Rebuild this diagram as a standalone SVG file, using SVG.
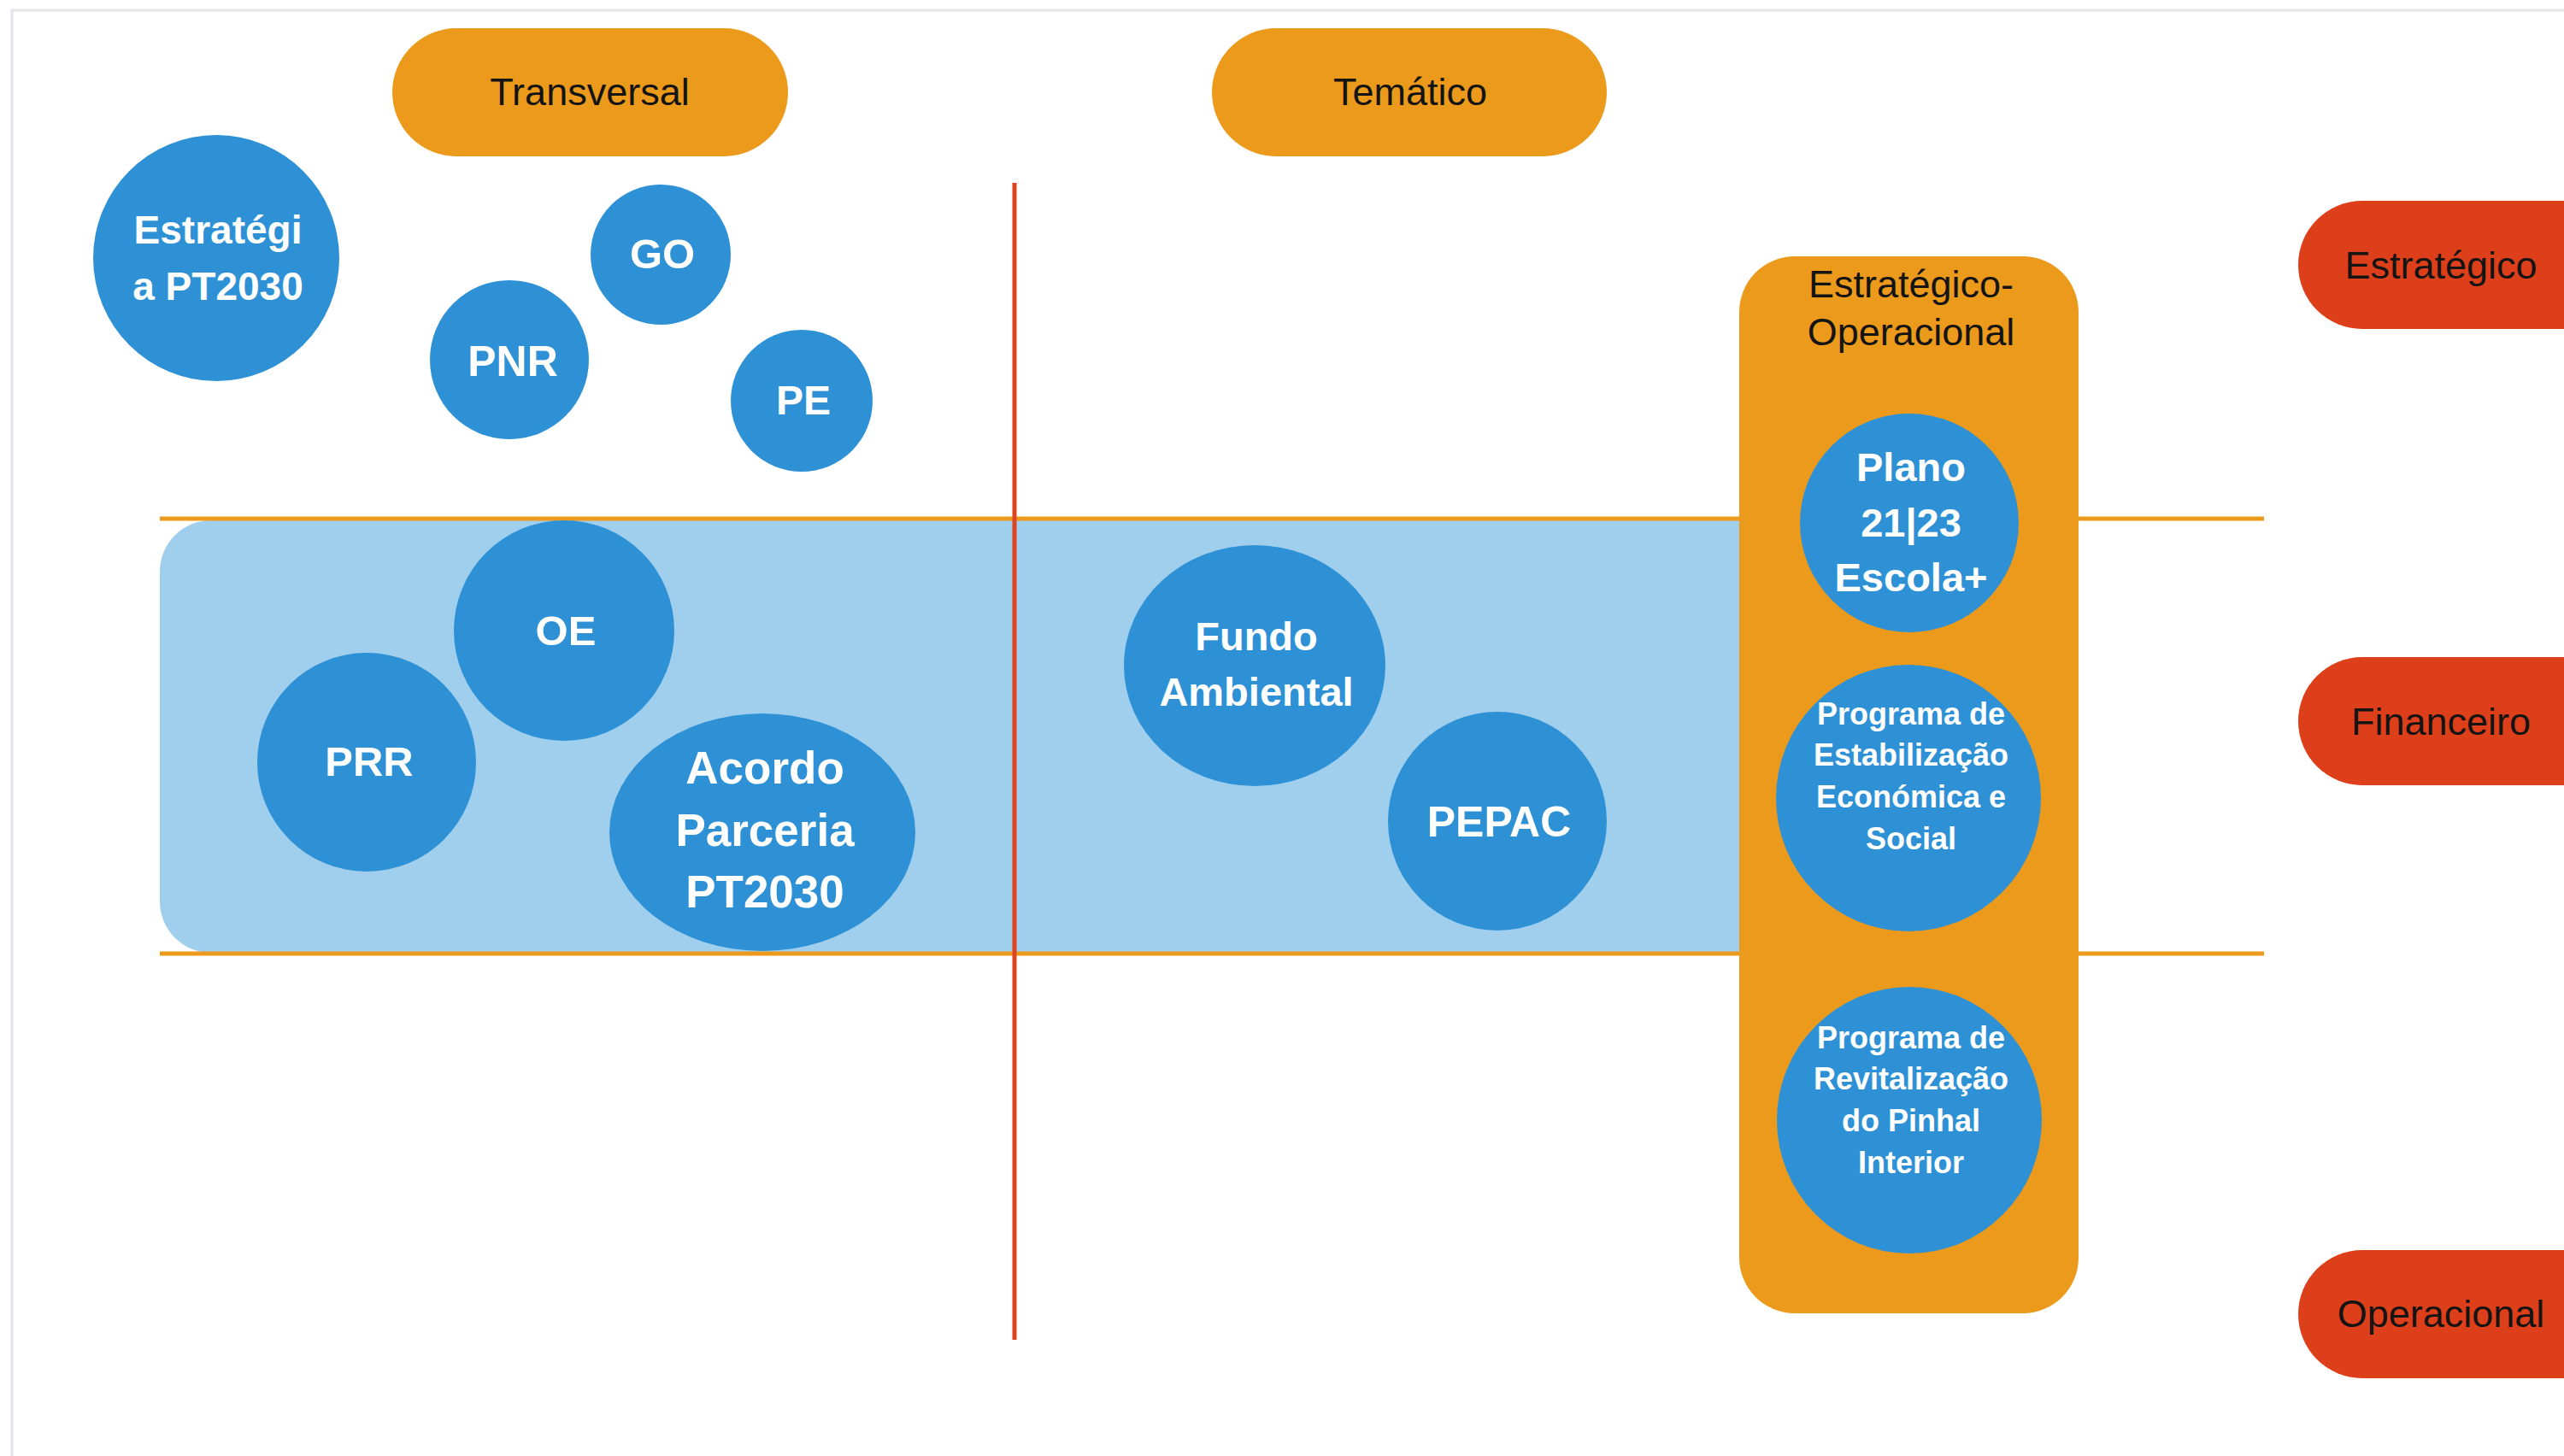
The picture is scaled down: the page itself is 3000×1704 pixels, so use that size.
<svg xmlns="http://www.w3.org/2000/svg" width="3000" height="1704" viewBox="0 0 3000 1704">
<style>
.pill{fill:#EC9A1C}
.red{fill:#DE3F1B}
.dot{fill:#2E91D5}
.lbl{font-family:"Liberation Sans",Arial,sans-serif;font-size:45px;fill:#141414;text-anchor:middle}
.wt{font-family:"Liberation Sans",Arial,sans-serif;font-weight:bold;fill:#FFFFFF;text-anchor:middle}
.sm{font-size:36px}
.hl{stroke:#EC9A1C;stroke-width:5}
</style>
<rect width="3000" height="1704" fill="#FFFFFF"/>
<path d="M14 1704 V12 H3000" fill="none" stroke="#E4E4EA" stroke-width="3"/>
<rect id="band" x="187" y="609" width="1920" height="506" rx="60" fill="#A0CFEE"/>
<g id="connectors">
<line class="hl" x1="187" y1="607" x2="2649" y2="607"/>
<line class="hl" x1="187" y1="1116" x2="2649" y2="1116"/>
<line x1="1187" y1="214" x2="1187" y2="1568" stroke="#DF4420" stroke-width="5"/>
</g>
<g id="transversal"><rect class="pill" x="459" y="33" width="463" height="150" rx="75"/><text class="lbl" x="690" y="123">Transversal</text></g>
<g id="tematico"><rect class="pill" x="1418" y="33" width="462" height="150" rx="75"/><text class="lbl" x="1650" y="123">Temático</text></g>
<g id="estrategico"><rect class="red" x="2689" y="235" width="400" height="150" rx="75"/><text class="lbl" x="2856" y="326">Estratégico</text></g>
<g id="financeiro"><rect class="red" x="2689" y="769" width="400" height="150" rx="75"/><text class="lbl" x="2856" y="860">Financeiro</text></g>
<g id="operacional"><rect class="red" x="2689" y="1463" width="400" height="150" rx="75"/><text class="lbl" x="2856" y="1553">Operacional</text></g>
<g id="estrategico-operacional"><rect class="pill" x="2035" y="300" width="397" height="1237" rx="65"/><text class="lbl" x="2236" y="348">Estratégico-</text><text class="lbl" x="2236" y="404">Operacional</text></g>
<g id="estrategia-pt2030"><circle class="dot" cx="253" cy="302" r="144"/><text class="wt" font-size="46" x="255" y="285">Estratégi</text><text class="wt" font-size="46" x="255" y="351">a PT2030</text></g>
<g id="go"><circle class="dot" cx="773" cy="298" r="82"/><text class="wt" font-size="49" x="775" y="314">GO</text></g>
<g id="pnr"><circle class="dot" cx="596" cy="421" r="93"/><text class="wt" font-size="50" x="600" y="440">PNR</text></g>
<g id="pe"><circle class="dot" cx="938" cy="469" r="83"/><text class="wt" font-size="48" x="940" y="485">PE</text></g>
<g id="oe"><circle class="dot" cx="660" cy="738" r="129"/><text class="wt" font-size="49" x="662" y="755">OE</text></g>
<g id="prr"><circle class="dot" cx="429" cy="892" r="128"/><text class="wt" font-size="49" x="432" y="908">PRR</text></g>
<g id="acordo"><ellipse class="dot" cx="892" cy="974" rx="179" ry="139"/><text class="wt" font-size="53" x="895" y="917">Acordo</text><text class="wt" font-size="53" x="895" y="990">Parceria</text><text class="wt" font-size="53" x="895" y="1062">PT2030</text></g>
<g id="fundo-ambiental"><ellipse class="dot" cx="1468" cy="779" rx="153" ry="141"/><text class="wt" font-size="47" x="1470" y="761">Fundo</text><text class="wt" font-size="47" x="1470" y="826">Ambiental</text></g>
<g id="pepac"><circle class="dot" cx="1752" cy="961" r="128"/><text class="wt" font-size="50" x="1754" y="979">PEPAC</text></g>
<g id="plano"><ellipse class="dot" cx="2234" cy="612" rx="128" ry="128"/><text class="wt" font-size="47" x="2236" y="563">Plano</text><text class="wt" font-size="47" x="2236" y="628">21|23</text><text class="wt" font-size="47" x="2236" y="692">Escola+</text></g>
<g id="programa-estabilizacao"><ellipse class="dot" cx="2233" cy="934" rx="155" ry="156"/><text class="wt sm" x="2236" y="848">Programa de</text><text class="wt sm" x="2236" y="896">Estabilização</text><text class="wt sm" x="2236" y="945">Económica e</text><text class="wt sm" x="2236" y="994">Social</text></g>
<g id="programa-revitalizacao"><ellipse class="dot" cx="2234" cy="1311" rx="155" ry="156"/><text class="wt sm" x="2236" y="1227">Programa de</text><text class="wt sm" x="2236" y="1275">Revitalização</text><text class="wt sm" x="2236" y="1324">do Pinhal</text><text class="wt sm" x="2236" y="1373">Interior</text></g>
</svg>
